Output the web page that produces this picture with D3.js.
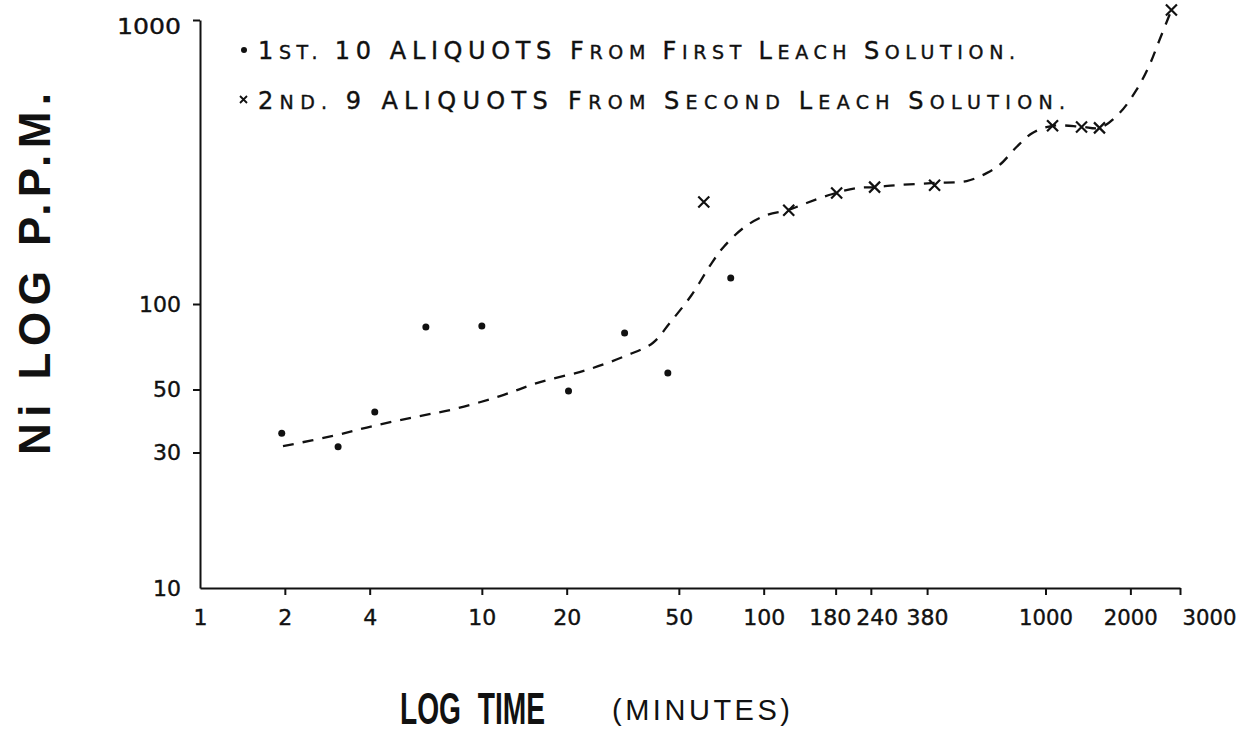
<!DOCTYPE html>
<html>
<head>
<meta charset="utf-8">
<script src="https://cdn.jsdelivr.net/npm/d3@7"></script>
<style>
  body { margin: 0; background: #fff; }
  .axis path, .axis line { stroke: #111; stroke-width: 2; }
  .axis text { font-family: "DejaVu Sans", sans-serif; font-size: 22px; fill: #111; stroke: #111; stroke-width: 0.4px; }
</style>
</head>
<body>
<div id="chart"></div>
<script>
// first leach solution (dots)
const firstTime = [1.95, 3.09, 4.17, 6.33, 10.0, 20.3, 32.1, 45.7, 76.4];
const firstNi   = [35.1, 31.4, 41.7, 83.0, 83.7, 49.4, 79.1, 57.1, 123.5];

// second leach solution (crosses)
const secondTime = [61.3, 122.7, 181.5, 247.5, 404, 1059, 1342, 1554, 2797];
const secondNi   = [228.6, 214, 246, 258, 262, 424, 420, 417, 1084];

// hand drawn dashed trend line
const curveTime = [1.97, 2.96, 4.11, 5.79, 8.02, 11.6, 16.1, 23.6, 32.9, 40.4, 46.4, 55.5,
                   65.4, 72.1, 85.6, 102.5, 121.7, 142, 175.7, 213.7, 247.5, 296, 404, 524.8,
                   618, 687, 789, 899, 1059, 1342, 1554, 1830, 2102, 2338, 2537, 2797];
const curveNi   = [31.6, 34.3, 37.2, 40.0, 42.7, 47.4, 53.1, 58.6, 66.1, 72.9, 85.7, 107.6,
                   139.4, 158.8, 186.7, 205.8, 214, 226.8, 244, 256, 258, 262, 266.8, 271,
                   289, 308.6, 357, 400, 424, 421, 417, 470, 567, 694, 850, 1084];

const xTicks = [1, 2, 4, 10, 20, 50, 100, 180, 240, 380, 1000, 2000, 3000];
const yTicks = [10, 30, 50, 100, 1000];

const W = 1252, H = 736;

let svg = d3.select("#chart").append("svg")
    .attr("width", W)
    .attr("height", H)
    .style("font-family", "DejaVu Sans, sans-serif");

let x = d3.scaleLog().domain([1, 3000]).range([200, 1180]);
let y = d3.scaleLog().domain([10, 1000]).range([588, 20]);

// x axis
let gx = svg.append("g")
    .attr("class", "axis")
    .attr("transform", "translate(0,588)")
    .call(d3.axisBottom(x).tickValues(xTicks).tickSize(7).tickSizeOuter(0)
        .tickPadding(14).tickFormat(d3.format("d")));
gx.selectAll(".tick line").filter(d => d === 1).remove();
gx.selectAll(".tick text")
    .attr("textLength", d => d >= 1000 ? 54 : d >= 100 ? 42 : null)
    .attr("lengthAdjust", "spacingAndGlyphs");
gx.selectAll(".tick text").filter(d => d === 180).attr("dx", -6);
gx.selectAll(".tick text").filter(d => d === 240).attr("dx", 6);
gx.selectAll(".tick text").filter(d => d === 3000)
    .attr("text-anchor", "start").attr("dx", 2);

// y axis
let gy = svg.append("g")
    .attr("class", "axis")
    .attr("transform", "translate(200,0)")
    .call(d3.axisLeft(y).tickValues(yTicks).tickSize(7).tickSizeOuter(0)
        .tickPadding(12).tickFormat(d3.format("d")));
gy.selectAll(".tick line").filter(d => d === 10).remove();
gy.selectAll(".tick text").filter(d => d === 1000)
    .attr("textLength", 64).attr("lengthAdjust", "spacingAndGlyphs").attr("dy", "0.6em");

// trend line
let line = d3.line()
    .x((d, i) => x(curveTime[i]))
    .y((d, i) => y(curveNi[i]))
    .curve(d3.curveCatmullRom);

svg.append("path")
    .datum(curveTime)
    .attr("d", line)
    .attr("fill", "none")
    .attr("stroke", "#111")
    .attr("stroke-width", 2.3)
    .attr("stroke-dasharray", "11,9");

// dots
svg.selectAll(".dot").data(firstTime).enter().append("circle")
    .attr("class", "dot")
    .attr("cx", d => x(d))
    .attr("cy", (d, i) => y(firstNi[i]))
    .attr("r", 3.5)
    .attr("fill", "#111");

// crosses
const cs = 5.5;
let cross = svg.selectAll(".cross").data(secondTime).enter().append("g")
    .attr("class", "cross")
    .attr("transform", (d, i) => "translate(" + x(d) + "," + y(secondNi[i]) + ")");
cross.append("path")
    .attr("d", "M" + (-cs) + "," + (-cs) + "L" + cs + "," + cs + "M" + (-cs) + "," + cs + "L" + cs + "," + (-cs))
    .attr("stroke", "#111")
    .attr("stroke-width", 2.2)
    .attr("fill", "none");

// legend
function legendLine(ypos, parts, len) {
    let t = svg.append("text")
        .attr("x", 258)
        .attr("y", ypos)
        .attr("textLength", len)
        .attr("lengthAdjust", "spacing")
        .style("fill", "#111")
        .style("stroke", "#111")
        .style("stroke-width", "0.4px");
    parts.forEach(p => {
        t.append("tspan").style("font-size", p[1] + "px").text(p[0]);
    });
}
svg.append("circle").attr("cx", 244).attr("cy", 50).attr("r", 3).attr("fill", "#111");
legendLine(59, [["1", 24], ["ST. ", 19], ["10 ALIQUOTS  ", 24], ["F", 24], ["ROM ", 19], ["F", 24], ["IRST  ", 19],
                ["L", 24], ["EACH  ", 19], ["S", 24], ["OLUTION.", 19]], 757);

svg.append("path")
    .attr("d", "M240,96L247,103M240,103L247,96")
    .attr("stroke", "#111").attr("stroke-width", 1.8);
legendLine(109, [["2", 24], ["ND. ", 19], ["9 ALIQUOTS  ", 24], ["F", 24], ["ROM ", 19], ["S", 24], ["ECOND  ", 19],
                 ["L", 24], ["EACH  ", 19], ["S", 24], ["OLUTION.", 19]], 807);

// axis titles
svg.append("text")
    .attr("transform", "translate(50,274) rotate(-90)")
    .attr("text-anchor", "middle")
    .attr("textLength", 362)
    .attr("lengthAdjust", "spacing")
    .style("font-family", "Liberation Sans, sans-serif")
    .style("font-weight", "bold")
    .style("font-size", "44px")
    .style("fill", "#111")
    .text("Ni  LOG  P.P.M.");

// condensed bold title, squeezed with a transform
svg.append("text")
    .attr("transform", "translate(400,724) scale(0.64,1)")
    .style("font-family", "Liberation Sans, sans-serif")
    .style("font-weight", "bold")
    .style("font-size", "44px")
    .style("word-spacing", "14px")
    .style("fill", "#111")
    .text("LOG TIME");

svg.append("text")
    .attr("x", 612)
    .attr("y", 720)
    .attr("textLength", 178)
    .attr("lengthAdjust", "spacing")
    .style("font-family", "Liberation Sans, sans-serif")
    .style("font-size", "29px")
    .style("fill", "#111")
    .text("(MINUTES)");
</script>
</body>
</html>
